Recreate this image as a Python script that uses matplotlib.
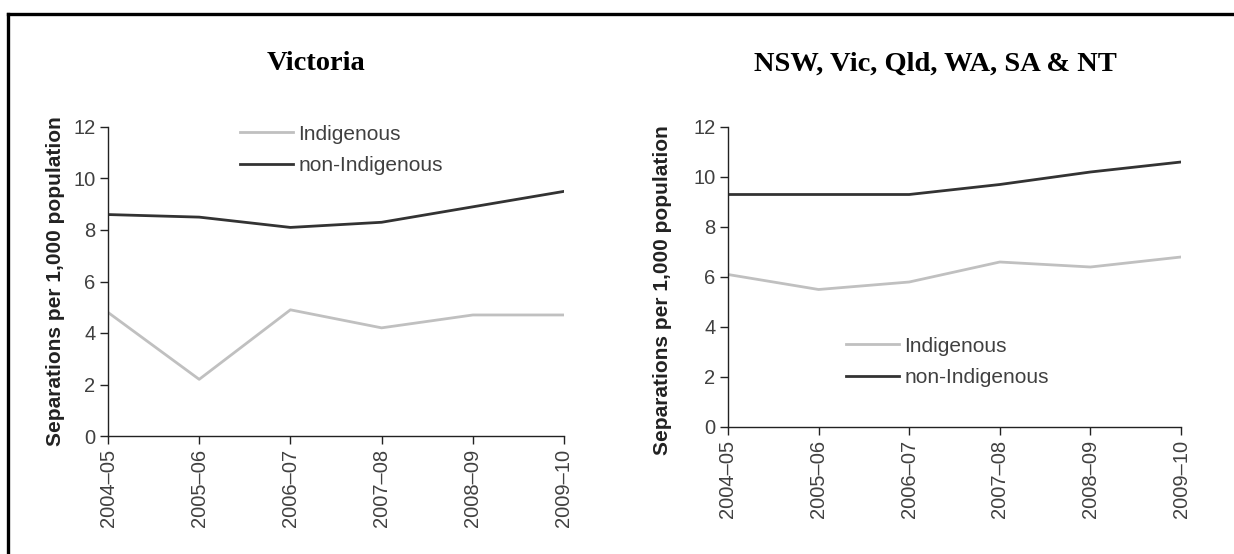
import matplotlib
matplotlib.use("Agg")
import matplotlib.pyplot as plt
from matplotlib.lines import Line2D

years = ["2004\u201305", "2005\u201306", "2006\u201307", "2007\u201308", "2008\u201309", "2009\u201310"]

vic_indigenous = [4.8, 2.2, 4.9, 4.2, 4.7, 4.7]
vic_non_indigenous = [8.6, 8.5, 8.1, 8.3, 8.9, 9.5]

all_indigenous = [6.1, 5.5, 5.8, 6.6, 6.4, 6.8]
all_non_indigenous = [9.3, 9.3, 9.3, 9.7, 10.2, 10.6]

titles = ["Victoria", "NSW, Vic, Qld, WA, SA & NT"]

plt.rcParams['font.family'] = ['Liberation Sans', 'DejaVu Sans']

light = '#c0c0c0'
dark = '#333333'
text_col = '#404040'

W, H = 1234, 554
fig = plt.figure(figsize=(W / 100, H / 100), dpi=100)


def px_axes(x0, x1, ytop, ybot):
    return fig.add_axes([x0 / W, 1 - ybot / H, (x1 - x0) / W, (ybot - ytop) / H])


ax1 = px_axes(108, 564, 127, 436)
ax2 = px_axes(728, 1181, 127, 427)

# axes, indigenous, non-indigenous, legend anchor (px), title x, y-label centre (px)
panels = [
    (ax1, vic_indigenous, vic_non_indigenous, (240, 150), 316, (56, 281)),
    (ax2, all_indigenous, all_non_indigenous, (846, 362), 935, (662, 290)),
]

for i, (ax, ind, non, (gx, gy), tx, (lx, ly)) in enumerate(panels):
    x = range(len(years))
    ax.plot(x, ind, color=light, lw=2, label="Indigenous")
    ax.plot(x, non, color=dark, lw=2, label="non-Indigenous")
    ax.set_xlim(0, len(years) - 1)
    ax.set_ylim(0, 12)
    ax.set_yticks(range(0, 13, 2))
    ax.set_xticks(list(x))
    ax.set_xticklabels(years, rotation=90)
    for s in ['top', 'right']:
        ax.spines[s].set_visible(False)
    for s in ['left', 'bottom']:
        ax.spines[s].set_color('#222222')
        ax.spines[s].set_linewidth(1)
    ax.tick_params(direction='out', length=6, width=1, color='#222222',
                   labelsize=14.5, labelcolor=text_col, pad=3)
    leg = ax.legend(loc='center left', bbox_to_anchor=(gx / W, 1 - gy / H),
                    bbox_transform=fig.transFigure, frameon=False, fontsize=15,
                    handlelength=2.55, handletextpad=0.25, labelspacing=0.62,
                    borderpad=0, borderaxespad=0)
    for t in leg.get_texts():
        t.set_color(text_col)
    fig.text(tx / W, 1 - 64 / H, titles[i], ha='center', va='center', fontsize=20.5,
             fontweight='bold', family='Liberation Serif', color='black')
    fig.text(lx / W, 1 - ly / H, "Separations per 1,000 population", rotation=90,
             ha='center', va='center', fontsize=15, fontweight='bold', color='#222222')

# outer frame (left and top edges visible)
fig.add_artist(Line2D([8 / W, 8 / W], [0, 1 - 14 / H], transform=fig.transFigure,
                      color='black', lw=2.4, solid_capstyle='projecting'))
fig.add_artist(Line2D([8 / W, 1], [1 - 14 / H, 1 - 14 / H], transform=fig.transFigure,
                      color='black', lw=2.4, solid_capstyle='projecting'))

fig.savefig("out.png", dpi=100)
